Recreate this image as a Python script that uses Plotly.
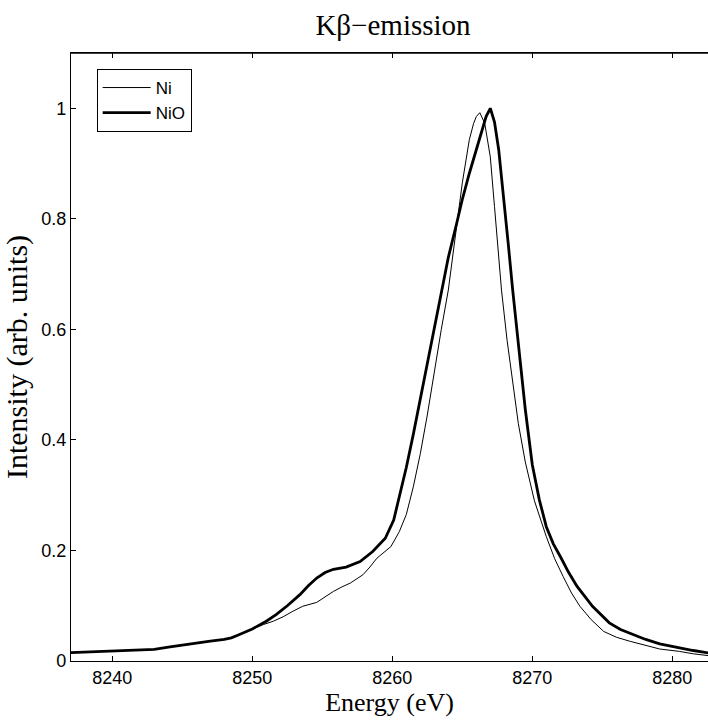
import plotly.graph_objects as go

# Energy (eV) and intensity values
energy_nio = [8237.0, 8238.0, 8239.0, 8240.0, 8241.0, 8242.0, 8243.0, 8244.0, 8245.0, 8246.0,
              8247.0, 8248.0, 8248.5, 8249.0, 8250.0, 8251.0, 8251.7, 8252.5, 8253.4, 8254.0,
              8254.6, 8255.2, 8255.8, 8256.7, 8257.7, 8258.6, 8259.5, 8260.1, 8260.5, 8261.0,
              8261.5, 8262.0, 8262.5, 8263.0, 8263.5, 8264.0, 8264.6, 8265.0, 8265.5, 8266.0,
              8266.4, 8266.7, 8267.0, 8267.3, 8267.6, 8268.0, 8268.3, 8268.6, 8269.0, 8269.5,
              8270.0, 8270.5, 8271.0, 8271.5, 8272.0, 8272.6, 8273.2, 8274.3, 8275.5, 8276.3,
              8277.2, 8278.1, 8279.1, 8280.5, 8281.5, 8282.6]
intensity_nio = [0.015, 0.016, 0.017, 0.018, 0.020, 0.021, 0.021, 0.025, 0.029, 0.033,
                 0.036, 0.039, 0.042, 0.047, 0.058, 0.072, 0.084, 0.100, 0.120, 0.136,
                 0.150, 0.160, 0.166, 0.170, 0.180, 0.198, 0.222, 0.255, 0.295, 0.350,
                 0.410, 0.475, 0.540, 0.605, 0.671, 0.730, 0.792, 0.835, 0.882, 0.925,
                 0.955, 0.985, 1.000, 0.975, 0.925, 0.830, 0.750, 0.671, 0.570, 0.455,
                 0.355, 0.292, 0.243, 0.212, 0.189, 0.160, 0.135, 0.099, 0.069, 0.057,
                 0.048, 0.039, 0.031, 0.0235, 0.019, 0.0145]

energy_ni = [8237.0, 8238.0, 8239.0, 8240.0, 8241.0, 8242.0, 8243.0, 8244.0, 8245.0, 8246.0,
             8247.0, 8248.0, 8248.5, 8249.0, 8250.0, 8250.8, 8251.5, 8252.2, 8252.9, 8253.6,
             8254.6, 8255.2, 8255.8, 8256.4, 8257.0, 8257.9, 8258.4, 8258.9, 8259.4, 8259.9,
             8260.5, 8261.0, 8261.5, 8262.0, 8262.5, 8263.0, 8263.5, 8264.0, 8264.4, 8264.75,
             8265.0, 8265.5, 8265.8, 8266.0, 8266.25, 8266.6, 8267.0, 8267.3, 8267.6, 8267.8,
             8268.2, 8268.6, 8269.0, 8269.5, 8270.15, 8271.0, 8271.6, 8272.2, 8272.8, 8273.4,
             8274.2, 8275.1, 8276.0, 8277.0, 8278.0, 8279.1, 8280.5, 8281.5, 8282.6]
intensity_ni = [0.015, 0.016, 0.017, 0.018, 0.020, 0.021, 0.021, 0.025, 0.029, 0.033,
                0.036, 0.039, 0.042, 0.047, 0.058, 0.066, 0.072, 0.080, 0.090, 0.099,
                0.106, 0.116, 0.126, 0.134, 0.141, 0.156, 0.170, 0.186, 0.197, 0.207,
                0.234, 0.265, 0.315, 0.375, 0.445, 0.525, 0.600, 0.671, 0.745, 0.816,
                0.865, 0.943, 0.972, 0.985, 0.992, 0.973, 0.912, 0.822, 0.732, 0.671,
                0.580, 0.500, 0.430, 0.360, 0.290, 0.225, 0.185, 0.153, 0.123, 0.099,
                0.075, 0.0535, 0.043, 0.0355, 0.029, 0.0217, 0.0174, 0.013, 0.0096]

x_ticks = [8240, 8250, 8260, 8270, 8280]
y_ticks = [0, 0.2, 0.4, 0.6, 0.8, 1]
y_tick_labels = ["0", "0.2", "0.4", "0.6", "0.8", "1"]
x_range = [8237.05, 8282.55]

sans = "Liberation Sans, Arial, sans-serif"
serif = "Liberation Serif, Times New Roman, serif"

fig = go.Figure()
fig.add_trace(go.Scatter(x=energy_ni, y=intensity_ni, mode="lines", name="Ni",
                         line=dict(color="black", width=1.0)))
fig.add_trace(go.Scatter(x=energy_nio, y=intensity_nio, mode="lines", name="NiO",
                         line=dict(color="black", width=2.8)))

axis_common = dict(ticks="inside", ticklen=5, tickwidth=1, tickcolor="black",
                   showline=True, linecolor="black", linewidth=1.2,
                   showgrid=False, zeroline=False)

fig.update_layout(
    width=708, height=721,
    margin=dict(l=71, r=0, t=53, b=60),
    paper_bgcolor="white", plot_bgcolor="white",
    title=dict(text="Kβ−emission", x=393 / 708, xanchor="center", y=1 - 25 / 721, yanchor="middle",
               font=dict(family=serif, size=29, color="black")),
    legend=dict(x=0.0403, y=0.9737, xanchor="left", yanchor="top",
                bordercolor="black", borderwidth=1, bgcolor="white",
                font=dict(family=sans, size=17, color="black"),
                itemwidth=48, tracegroupgap=0),
    showlegend=True,
    xaxis=dict(range=x_range, tickvals=x_ticks, side="bottom", mirror="allticks",
               tickfont=dict(family=sans, size=18, color="black"),
               title=dict(text="Energy (eV)", font=dict(family=serif, size=26, color="black"),
                          standoff=4),
               **axis_common),
    yaxis=dict(range=[0, 1.1], tickvals=y_ticks, ticktext=y_tick_labels, mirror=False,
               tickfont=dict(family=sans, size=18, color="black"),
               title=dict(text="Intensity (arb. units)",
                          font=dict(family=serif, size=30, color="black"), standoff=4),
               **axis_common),
)
# top frame edge of the axes box
fig.add_shape(type="line", xref="x domain", yref="y domain", x0=0, x1=1, y0=1, y1=1,
              line=dict(color="black", width=1.5), layer="above")

fig.write_html("out.html", config={"displayModeBar": False},
               post_script="document.body.style.margin='0';")
